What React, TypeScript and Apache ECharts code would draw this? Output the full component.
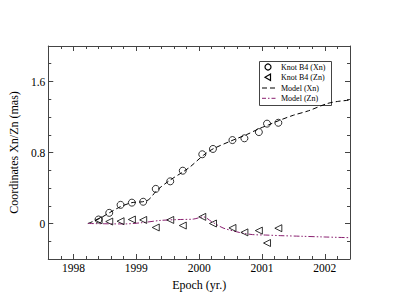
import React, { useEffect, useRef } from "react";
import * as echarts from "echarts";

const epochs = [1998.4, 1998.57, 1998.75, 1998.93, 1999.11, 1999.31, 1999.54, 1999.74, 2000.05, 2000.22, 2000.53, 2000.72, 2000.95, 2001.08, 2001.26];
const xnValues = [0.045, 0.12, 0.21, 0.235, 0.245, 0.39, 0.475, 0.595, 0.78, 0.84, 0.94, 0.96, 1.03, 1.125, 1.135];
const znValues = [0.037, 0.022, 0.026, 0.045, 0.04, -0.045, 0.04, -0.023, 0.075, 0.0, -0.05, -0.1, -0.08, -0.22, -0.053];

const modelXnEpochs = [1998.23, 1998.4, 1998.57, 1998.75, 1998.93, 1999.1, 1999.2, 1999.33, 1999.54, 1999.74, 1999.86, 2000.07, 2000.22, 2000.54, 2000.75, 2000.96, 2001.1, 2001.27, 2001.5, 2001.74, 2002.03, 2002.2, 2002.4];
const modelXn = [0, 0.05, 0.12, 0.19, 0.235, 0.245, 0.27, 0.375, 0.49, 0.58, 0.64, 0.77, 0.84, 0.94, 1.0, 1.07, 1.11, 1.16, 1.22, 1.27, 1.35, 1.375, 1.39];

const modelZnEpochs = [1998.23, 1998.5, 1998.8, 1999.1, 1999.39, 1999.7, 1999.91, 2000.07, 2000.2, 2000.38, 2000.55, 2000.7, 2000.85, 2001.06, 2001.3, 2001.59, 2002.0, 2002.4];
const modelZn = [0, -0.003, -0.005, 0.01, 0.035, 0.045, 0.05, 0.075, 0.02, -0.05, -0.085, -0.11, -0.125, -0.13, -0.137, -0.143, -0.152, -0.16];

const xMajorTicks = [1998, 1999, 2000, 2001, 2002];
const yMajorTicks = [0, 0.8, 1.6];
const legendLabels = ["Knot B4 (Xn)", "Knot B4 (Zn)", "Model (Xn)", "Model (Zn)"];

const X_MIN = 1997.6, X_MAX = 2002.4, Y_MIN = -0.4, Y_MAX = 2.0;

const xMinorTicks: number[] = [];
for (let i = 1; i < 24; i++) {
  const v = Math.round((X_MIN + i * 0.2) * 10) / 10;
  if (!xMajorTicks.some((m) => Math.abs(m - v) < 1e-6)) xMinorTicks.push(v);
}
const yMinorTicks: number[] = [];
for (let i = 1; i < 12; i++) {
  const v = Math.round((Y_MIN + i * 0.2) * 10) / 10;
  if (!yMajorTicks.some((m) => Math.abs(m - v) < 1e-6)) yMinorTicks.push(v);
}

const FONT = "'Liberation Serif', 'DejaVu Serif', serif";
const AXIS_COLOR = "#444";
const ZN_COLOR = "#8a2070";
const XN_DASH = [5, 3];
const ZN_DASH = [6, 2, 1.5, 2, 1.5, 2];

export default function App() {
  const ref = useRef<HTMLDivElement>(null);
  useEffect(() => {
    if (!ref.current) return;
    const chart = echarts.init(ref.current, undefined, { renderer: "svg" });
    const pair = (xs: number[], ys: number[]) => xs.map((x, i) => [x, ys[i]]);

    const xAxisBase = (position: "bottom" | "top", major: boolean, show: boolean) => ({
      type: "value",
      position,
      min: X_MIN,
      max: X_MAX,
      splitLine: { show: false },
      axisLine: { show, onZero: false, lineStyle: { color: AXIS_COLOR, width: 1 } },
      axisTick: {
        show: true,
        inside: true,
        length: major ? 5 : 3,
        customValues: major ? xMajorTicks : xMinorTicks,
        lineStyle: { color: AXIS_COLOR },
      },
      axisLabel: {
        show: position === "bottom" && major,
        customValues: xMajorTicks,
        fontFamily: FONT,
        fontSize: 11.5,
        color: "#000",
        margin: 3,
        formatter: (v: number) => String(Math.round(v)),
      },
    });
    const yAxisBase = (position: "left" | "right", major: boolean, show: boolean) => ({
      type: "value",
      position,
      min: Y_MIN,
      max: Y_MAX,
      splitLine: { show: false },
      axisLine: { show, onZero: false, lineStyle: { color: AXIS_COLOR, width: 1 } },
      axisTick: {
        show: true,
        inside: true,
        length: major ? 5 : 3,
        customValues: major ? yMajorTicks : yMinorTicks,
        lineStyle: { color: AXIS_COLOR },
      },
      axisLabel: {
        show: position === "left" && major,
        customValues: yMajorTicks,
        fontFamily: FONT,
        fontSize: 11.5,
        color: "#000",
        margin: 3,
        formatter: (v: number) => (v === 0 ? "0" : v.toFixed(1)),
      },
    });

    const LX = 259.5, LY = 61.5, LW = 72, LH = 44;
    const rowY = [67, 77.3, 88, 98.3];
    const symX = 268;
    const textX = 281;
    const legendGraphic = {
      type: "group",
      z: 100,
      children: [
        { type: "rect", shape: { x: LX, y: LY, width: LW, height: LH }, style: { fill: "#fff", stroke: AXIS_COLOR, lineWidth: 1 } },
        { type: "circle", shape: { cx: symX, cy: rowY[0], r: 3 }, style: { fill: "none", stroke: "#000", lineWidth: 1.2 } },
        {
          type: "polygon",
          shape: { points: [[symX - 3, rowY[1]], [symX + 2.5, rowY[1] - 3.2], [symX + 2.5, rowY[1] + 3.2]] },
          style: { fill: "none", stroke: "#000", lineWidth: 1.2 },
        },
        { type: "line", shape: { x1: 262, y1: rowY[2], x2: 276, y2: rowY[2] }, style: { stroke: "#000", lineWidth: 1, lineDash: XN_DASH } },
        { type: "line", shape: { x1: 262, y1: rowY[3], x2: 276, y2: rowY[3] }, style: { stroke: ZN_COLOR, lineWidth: 1, lineDash: [4, 2, 1.5, 2] } },
        ...legendLabels.map((t, i) => ({
          type: "text",
          style: { x: textX, y: rowY[i], text: t, fontFamily: FONT, fontSize: 8, fill: "#000", verticalAlign: "middle", align: "left" },
        })),
      ],
    };

    chart.setOption({
      animation: false,
      backgroundColor: "#fff",
      grid: { left: 46, right: 45, top: 46, bottom: 46, containLabel: false },
      graphic: [legendGraphic],
      xAxis: [
        { ...xAxisBase("bottom", true, true), name: "Epoch (yr.)", nameLocation: "middle", nameGap: 15, nameTextStyle: { fontFamily: FONT, fontSize: 12, color: "#000" } },
        xAxisBase("bottom", false, false),
        xAxisBase("top", true, true),
        xAxisBase("top", false, false),
      ],
      yAxis: [
        { ...yAxisBase("left", true, true), name: "Coordinates Xn/Zn (mas)", nameLocation: "middle", nameGap: 22, nameTextStyle: { fontFamily: FONT, fontSize: 12, color: "#000" } },
        yAxisBase("left", false, false),
        yAxisBase("right", true, true),
        yAxisBase("right", false, false),
      ],
      series: [
        {
          name: "Model (Xn)",
          type: "line",
          data: pair(modelXnEpochs, modelXn),
          showSymbol: false,
          symbol: "none",
          smooth: 0.3,
          lineStyle: { color: "#000", width: 1, type: XN_DASH },
          z: 2,
        },
        {
          name: "Model (Zn)",
          type: "line",
          data: pair(modelZnEpochs, modelZn),
          showSymbol: false,
          symbol: "none",
          smooth: 0.3,
          lineStyle: { color: ZN_COLOR, width: 1, type: ZN_DASH },
          z: 2,
        },
        {
          name: "Knot B4 (Xn)",
          type: "scatter",
          data: pair(epochs, xnValues),
          symbol: "circle",
          symbolSize: 7,
          itemStyle: { color: "rgba(255,255,255,0)", borderColor: "#000", borderWidth: 1 },
          z: 3,
        },
        {
          name: "Knot B4 (Zn)",
          type: "scatter",
          data: pair(epochs, znValues),
          symbol: "triangle",
          symbolSize: 7,
          symbolRotate: 90,
          itemStyle: { color: "rgba(255,255,255,0)", borderColor: "#000", borderWidth: 1 },
          z: 3,
        },
      ],
    });
    return () => chart.dispose();
  }, []);
  return <div ref={ref} style={{ width: 395, height: 305, position: "absolute", left: 0, top: 0 }} />;
}
